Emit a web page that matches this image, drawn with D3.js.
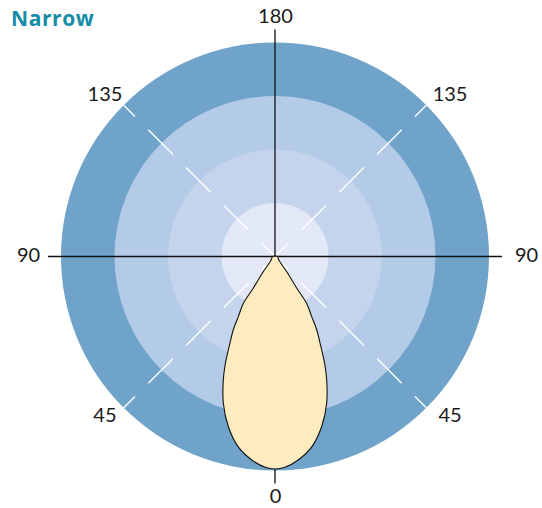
<!DOCTYPE html>
<html>
<head>
<meta charset="utf-8">
<script src="https://cdn.jsdelivr.net/npm/d3@7"></script>
<style>
  html, body { margin: 0; padding: 0; background: #fff; }
  svg { display: block; }
</style>
</head>
<body>
<svg id="chart" width="542" height="508"></svg>
<script>
// polar light distribution, gamma 0 = straight down, values relative to outer ring
const title = 'Narrow'
const gammaDeg = [0, 2.7, 6.5, 11, 15.3, 19.4, 22.7, 24.7, 27, 29.6, 31.4, 34, 34.5, 37.6, 46.5, 70, 90]
const intensity = [0.993, 0.986, 0.957, 0.905, 0.825, 0.727, 0.626, 0.558, 0.472, 0.395, 0.329, 0.264, 0.18, 0.09, 0.026, 0.015, 0.013]
const rings = [1, 0.75, 0.5, 0.25]
const ringColors = ['#6fa3c9', '#b4cbe8', '#c3d4ec', '#e2e8f6']
const diagonals = [45, 135, 225, 315]
const tickGamma = [0, 45, -45, 90, -90, 135, -135, 180]
const tickText = ['0', '45', '45', '90', '90', '135', '135', '180']

const cx = 275, cy = 256.5, outerR = 214
const svg = d3.select('#chart')
const r = d3.scaleLinear().domain([0, 1]).range([0, outerR])
// signed gamma (right side positive) -> lineRadial angle
const toAngle = (g) => Math.PI - (g * Math.PI) / 180

const g = svg.append('g').attr('transform', `translate(${cx},${cy})`)

g.selectAll('circle.ring')
  .data(rings)
  .join('circle')
  .attr('class', 'ring')
  .attr('r', (d) => r(d))
  .attr('fill', (d, i) => ringColors[i])

const step = r(0.25)
g.selectAll('line.diag')
  .data(diagonals)
  .join('line')
  .attr('class', 'diag')
  .attr('x1', 0)
  .attr('y1', 0)
  .attr('x2', (d) => r(1) * Math.sin(toAngle(d)))
  .attr('y2', (d) => -r(1) * Math.cos(toAngle(d)))
  .attr('stroke', '#fff')
  .attr('stroke-width', 1.4)
  .attr('stroke-dasharray', `${step * 0.65} ${step * 0.35}`)
  .attr('stroke-dashoffset', step * 0.3)

// axis cross
const ext = r(1) + 13
g.append('line').attr('x1', -ext).attr('x2', ext).attr('y1', 0).attr('y2', 0)
  .attr('stroke', '#111').attr('stroke-width', 1.3)
g.append('line').attr('x1', 0).attr('x2', 0).attr('y1', -ext).attr('y2', ext)
  .attr('stroke', '#111').attr('stroke-width', 1.3)

// beam shape, mirrored left/right
const right = gammaDeg.map((d, i) => ({ s: d, v: intensity[i] }))
const left = gammaDeg.slice(1).map((d, i) => ({ s: -d, v: intensity[i + 1] })).reverse()

const beam = d3.lineRadial()
  .angle((d) => toAngle(d.s))
  .radius((d) => r(d.v))
  .curve(d3.curveCatmullRomClosed.alpha(0.5))

g.append('path')
  .attr('d', beam(right.concat(left)))
  .attr('fill', '#feebc0')
  .attr('stroke', '#111')
  .attr('stroke-width', 1.1)
  .attr('stroke-linejoin', 'round')

// angle labels; label ring is a bit wider than tall
function labelPos(gm) {
  const a = toAngle(gm)
  const sx = Math.sin(a), cy0 = -Math.cos(a)
  let x, y
  if (Math.abs(gm) === 90) {
    x = sx * 249 + 2.5
    y = -1.5
  } else if (gm === 0 || gm === 180) {
    x = 0.5
    y = cy0 * (gm === 0 ? 239.2 : 241.5) + 0.5
  } else {
    x = sx * 244 + 2.5
    y = cy0 * 227 - 1.8
  }
  return [cx + x, cy + y]
}

svg.selectAll('text.tick')
  .data(tickGamma)
  .join('text')
  .attr('class', 'tick')
  .attr('x', (d) => labelPos(d)[0])
  .attr('y', (d) => labelPos(d)[1])
  .attr('dy', '0.36em')
  .attr('text-anchor', 'middle')
  .attr('font-family', 'Lato, "Open Sans", sans-serif')
  .attr('font-size', 20)
  .attr('fill', '#1a1a1a')
  .text((d, i) => tickText[i])

svg.append('text')
  .attr('x', 11)
  .attr('y', 25.5)
  .attr('font-family', '"Open Sans", Lato, sans-serif')
  .attr('font-weight', 700)
  .attr('font-size', 21)
  .attr('letter-spacing', 0.6)
  .attr('fill', '#178ca7')
  .text(title)
</script>
</body>
</html>
